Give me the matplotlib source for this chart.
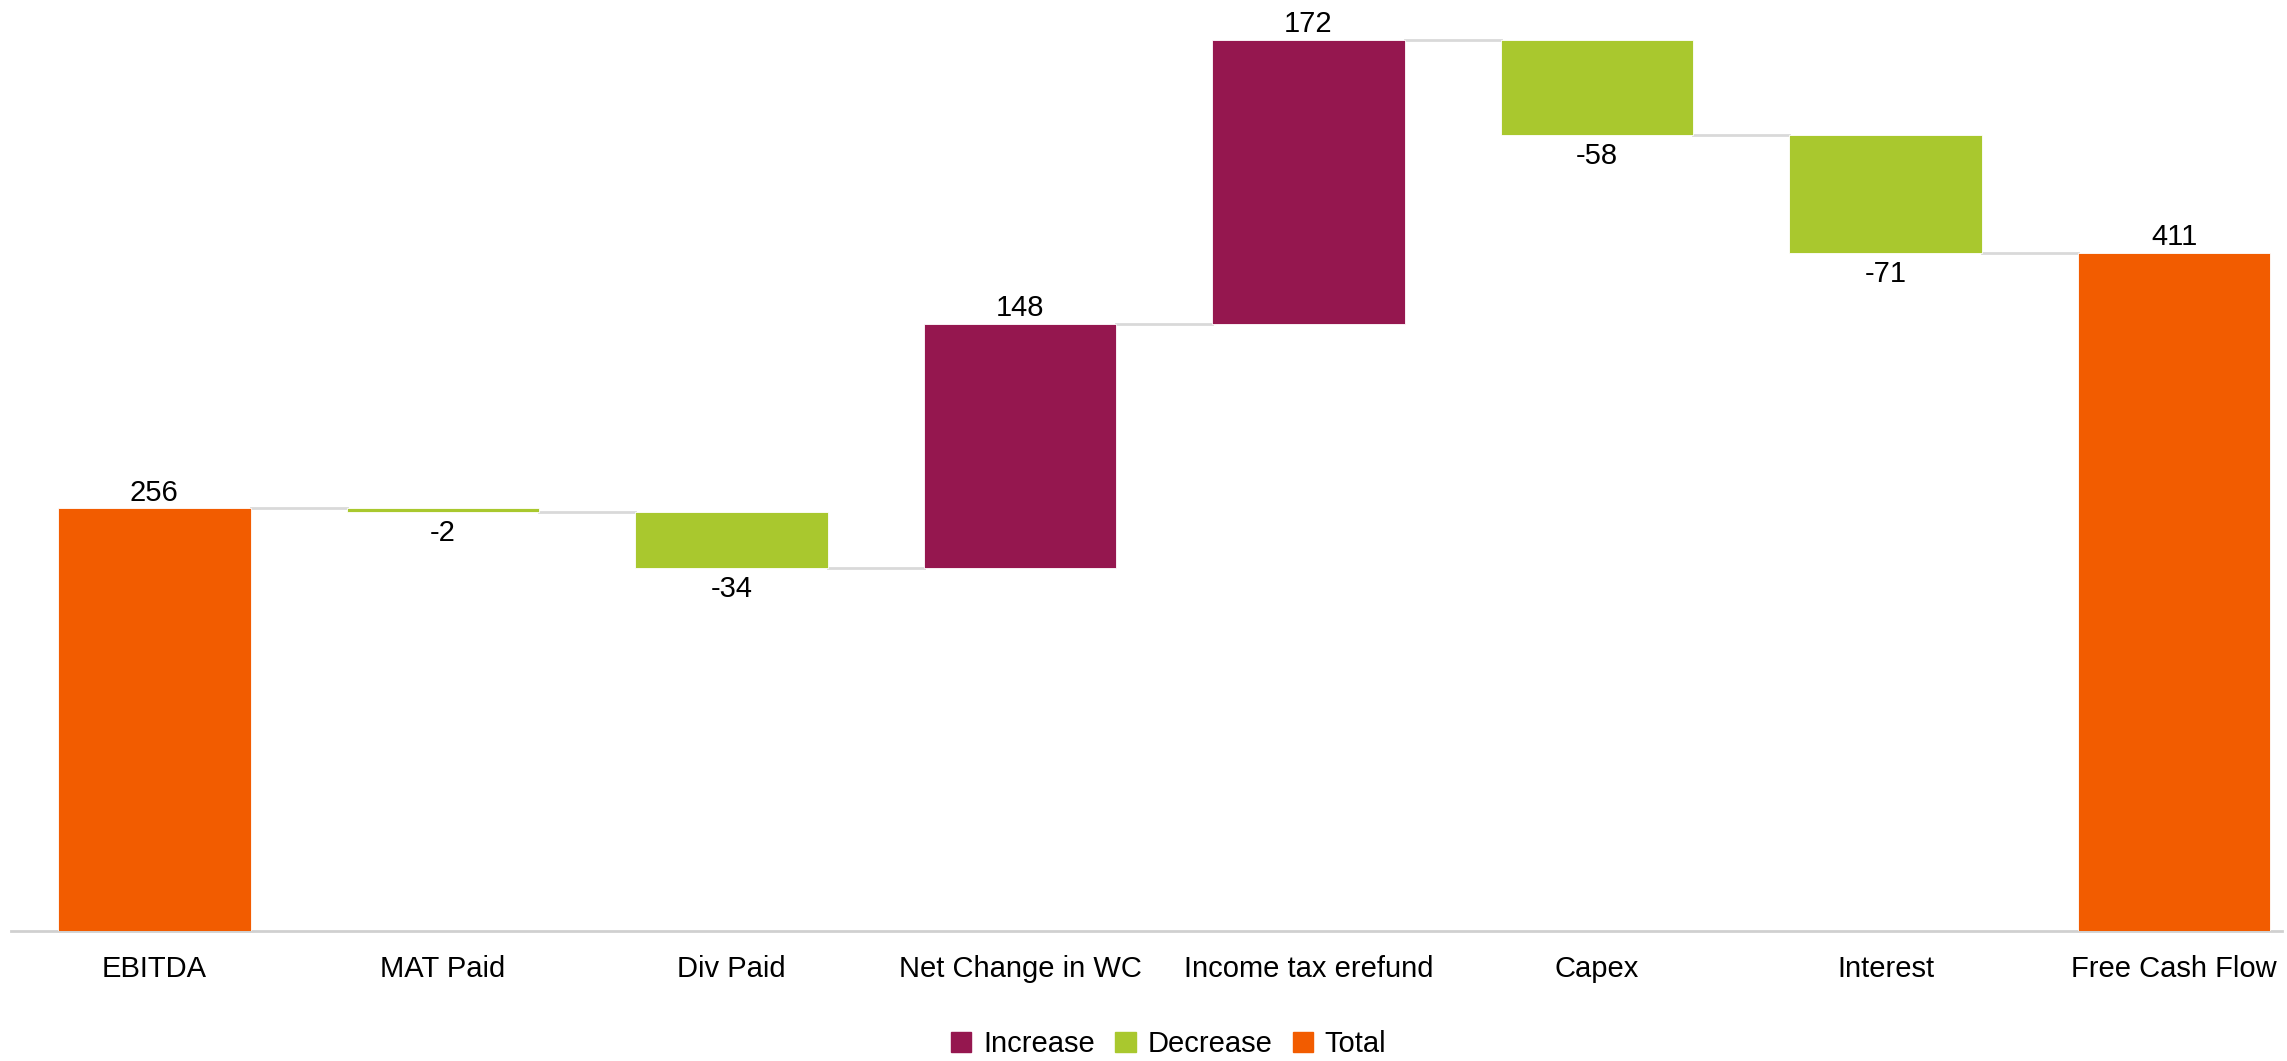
import matplotlib
matplotlib.use("Agg")
import matplotlib.pyplot as plt
from matplotlib.patches import Patch
import numpy as np

plt.rcParams['font.family'] = ['Liberation Sans', 'DejaVu Sans']

categories = ["EBITDA", "MAT Paid", "Div Paid", "Net Change in WC",
              "Income tax erefund", "Capex", "Interest", "Free Cash Flow"]
values = [256, -2, -34, 148, 172, -58, -71, 411]
kinds = ["total", "dec", "dec", "inc", "inc", "dec", "dec", "total"]

colors = {"inc": "#95174f", "dec": "#a9c82e", "total": "#f25c00"}

# bottoms and tops from running total
bottoms = []
tops = []
run = 0
for v, k in zip(values, kinds):
    if k == "total":
        bottoms.append(0)
        tops.append(v)
        run = v
    else:
        new = run + v
        bottoms.append(min(run, new))
        tops.append(max(run, new))
        run = new
bottoms = np.array(bottoms)
heights = np.array(tops) - bottoms

fig = plt.figure(figsize=(22.87, 10.61), dpi=100)
ax = fig.add_axes([0.005, 0.1225, 0.993, 0.8775])

x = np.arange(len(categories))
w = 0.667
ax.bar(x, heights, bottom=bottoms, width=w,
       color=[colors[k] for k in kinds], edgecolor="white", linewidth=0.6, zorder=3)

# connectors
run = 0
levels = []
for v, k in zip(values, kinds):
    run = v if k == "total" else run + v
    levels.append(run)
for i in range(len(x) - 1):
    ax.plot([x[i] + w / 2, x[i + 1] - w / 2], [levels[i], levels[i]],
            color="#d9d9d9", lw=2, zorder=2)

# value labels
for i, (v, k) in enumerate(zip(values, kinds)):
    if v >= 0:
        ax.annotate(str(v), (x[i], bottoms[i] + heights[i]), xytext=(0, 1),
                    textcoords="offset points", ha="center", va="bottom", fontsize=21)
    else:
        ax.annotate(str(v), (x[i], bottoms[i]), xytext=(0, -5),
                    textcoords="offset points", ha="center", va="top", fontsize=21)

ax.set_xlim(-0.495, 7.375)
ax.set_ylim(0, 564)
ax.set_xticks(x)
ax.set_xticklabels(categories, fontsize=21)
ax.tick_params(axis="x", length=0, pad=17)
ax.set_yticks([])
for s in ["top", "right", "left"]:
    ax.spines[s].set_visible(False)
ax.spines["bottom"].set_color("#d0d0d0")
ax.spines["bottom"].set_linewidth(2)

handles = [Patch(color=colors["inc"], label="Increase"),
           Patch(color=colors["dec"], label="Decrease"),
           Patch(color=colors["total"], label="Total")]
fig.legend(handles=handles, loc="lower center", bbox_to_anchor=(0.511, -0.022), ncol=3,
           frameon=False, fontsize=21, handlelength=0.7, handleheight=0.7,
           handletextpad=0.4, columnspacing=0.7)

fig.savefig("out.png", dpi=100)
